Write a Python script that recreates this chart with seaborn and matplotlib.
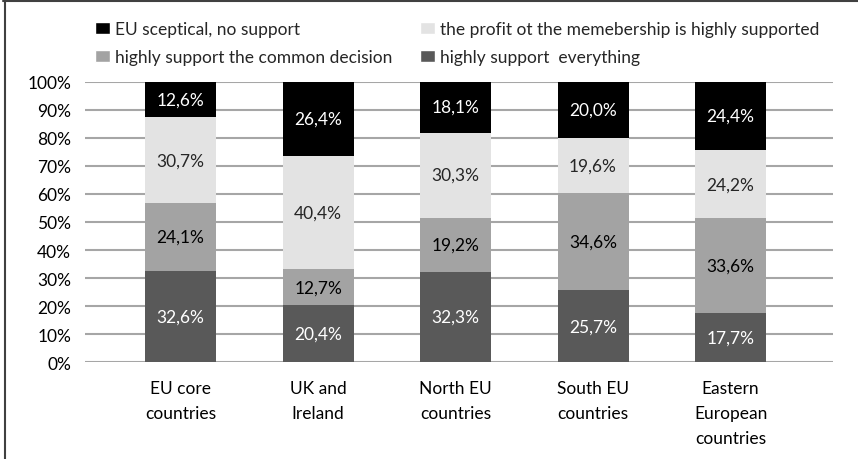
import numpy as np
import pandas as pd
import seaborn as sns
import matplotlib.pyplot as plt
from matplotlib.patches import Patch
from matplotlib.lines import Line2D

# regions (x categories)
regions = ["EU core\ncountries", "UK and\nIreland", "North EU\ncountries",
           "South EU\ncountries", "Eastern\nEuropean\ncountries"]

# series values in % (bottom to top)
everything = [32.6, 20.4, 32.3, 25.7, 17.7]
common_decision = [24.1, 12.7, 19.2, 34.6, 33.6]
profit_membership = [30.7, 40.4, 30.3, 19.6, 24.2]
sceptical = [12.6, 26.4, 18.1, 20.0, 24.4]

series_names = ["highly support  everything",
                "highly support the common decision",
                "the profit ot the memebership is highly supported",
                "EU sceptical, no support"]
series_colors = ["#595959", "#a3a3a3", "#e3e3e3", "#000000"]
label_colors = ["white", "black", "#262626", "white"]

sns.set_style("white")
plt.rcParams["font.family"] = ["Lato", "DejaVu Sans"]
FS = 12.5

df = pd.DataFrame({"region": regions,
                   "s0": everything, "s1": common_decision,
                   "s2": profit_membership, "s3": sceptical})
vals = df[["s0", "s1", "s2", "s3"]].to_numpy()
share = vals / vals.sum(axis=1, keepdims=True) * 100
cum = np.cumsum(share, axis=1)

fig = plt.figure(figsize=(8.58, 4.6), dpi=100)
ax = fig.add_axes([85 / 858, 1 - 363.3 / 460, (833 - 85) / 858, (363.3 - 82.7) / 460])

# draw cumulative bars from the top segment down so each covers the one above
for i in range(3, -1, -1):
    plot_df = pd.DataFrame({"region": regions, "height": cum[:, i]})
    sns.barplot(data=plot_df, x="region", y="height", color=series_colors[i],
                saturation=1, width=0.516, errorbar=None, ax=ax, zorder=3,
                linewidth=0)

# value labels
for j in range(len(regions)):
    for i in range(4):
        mid = cum[j, i] - share[j, i] / 2
        txt = f"{vals[j, i]:.1f}".replace(".", ",") + "%"
        ax.text(j, mid, txt, ha="center", va="center", fontsize=FS,
                color=label_colors[i], zorder=4)

ax.set_ylim(0, 100)
ax.set_xlim(-0.695, 4.745)
ax.set_yticks(np.arange(0, 101, 10))
ax.set_yticklabels([f"{t}%" for t in range(0, 101, 10)])
ax.yaxis.grid(True, color="#a6a6a6", linewidth=1.5, zorder=0)
ax.set_axisbelow(True)
ax.set_xlabel("")
ax.set_ylabel("")
for sp in ax.spines.values():
    sp.set_visible(False)
ax.tick_params(axis="y", length=0, pad=10, labelsize=FS, labelcolor="black")
ax.tick_params(axis="x", length=0, pad=12.5, labelsize=FS, labelcolor="black")
for lab in ax.get_xticklabels():
    lab.set_linespacing(1.72)

# legend: column-wise fill gives the reference layout
handles = [Patch(facecolor=series_colors[3], label=series_names[3]),
           Patch(facecolor=series_colors[1], label=series_names[1]),
           Patch(facecolor=series_colors[2], label=series_names[2]),
           Patch(facecolor=series_colors[0], label=series_names[0])]
fig.legend(handles=handles, ncol=2, loc="upper left",
           bbox_to_anchor=(95 / 858, 1 - 22 / 460), frameon=False,
           fontsize=FS, handlelength=0.85, handleheight=0.75,
           handletextpad=0.3, columnspacing=1.6, labelspacing=0.7,
           borderpad=0, borderaxespad=0)

# outer frame: top and left edges only
fig.add_artist(Line2D([3 / 858, 1], [1 - 2 / 460, 1 - 2 / 460],
                      transform=fig.transFigure, color="#404040", lw=1.5))
fig.add_artist(Line2D([4.5 / 858, 4.5 / 858], [0, 1 - 2 / 460],
                      transform=fig.transFigure, color="#404040", lw=1.5))

fig.savefig("out.png", dpi=100)
